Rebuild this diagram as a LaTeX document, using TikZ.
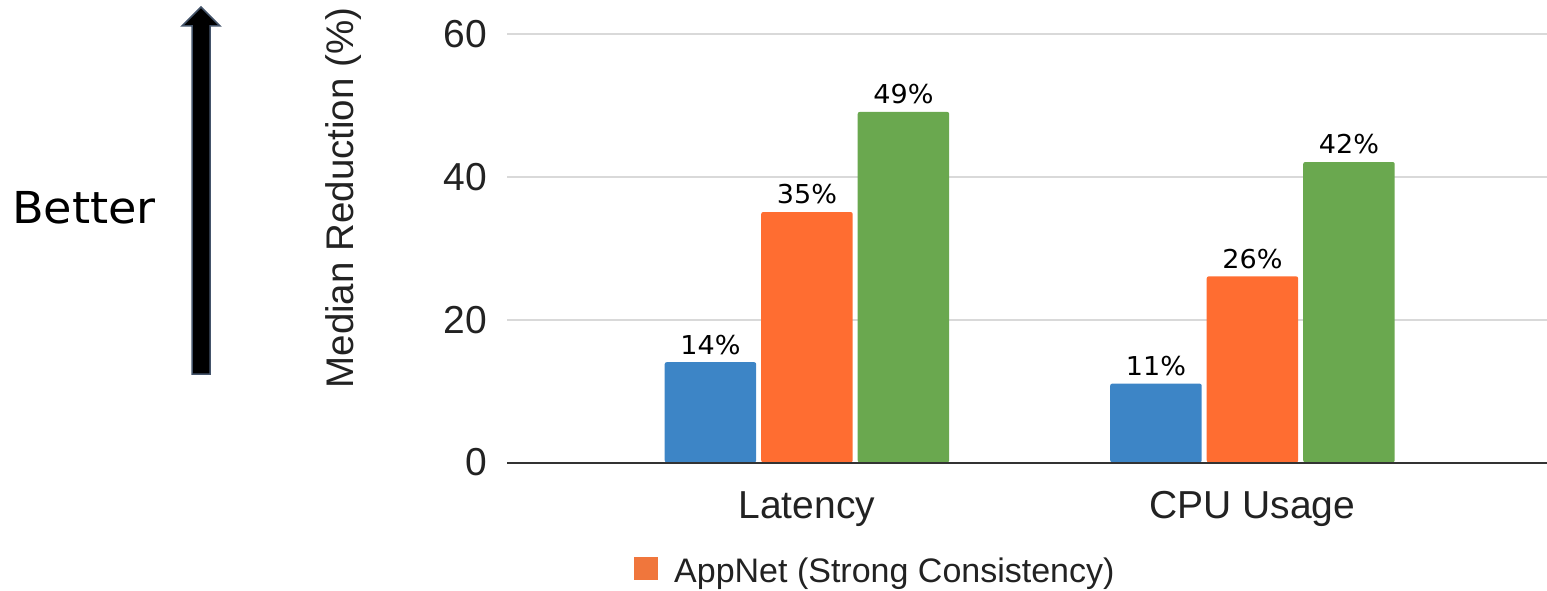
\documentclass[tikz,border=0pt]{standalone}
\usepackage{fontspec}
\setmainfont{Liberation Sans}
\newfontfamily\dvsans{DejaVu Sans}
\usetikzlibrary{calc}
\definecolor{barblue}{HTML}{3D85C6}
\definecolor{barorange}{HTML}{FF6D31}
\definecolor{bargreen}{HTML}{6AA84F}
\definecolor{keyorange}{HTML}{F0763C}
\definecolor{gridgray}{HTML}{D9D9D9}
\definecolor{axisgray}{HTML}{333333}
\definecolor{arrowedge}{HTML}{44546A}
\definecolor{labelgray}{HTML}{222222}
\tikzset{
  bar/.style={draw=none, inner sep=0pt, minimum width=91.5pt, anchor=south west, rounded corners=2pt},
  val/.style={font=\dvsans\fontsize{26}{30}\selectfont, inner sep=0pt, anchor=base, xscale=1.04},
  tick/.style={font=\fontsize{39}{45}\selectfont, text=labelgray, inner sep=0pt, anchor=east},
  cat/.style={font=\fontsize{39}{45}\selectfont, text=labelgray, inner sep=0pt, anchor=base},
  grid/.style={gridgray, line width=2pt},
}
\begin{document}
\begin{tikzpicture}[x=1pt, y=-1pt]
\useasboundingbox (0,0) rectangle (1547,591);

% "Better" arrow
\draw[fill=black, draw=arrowedge, line width=1.5pt, line join=miter]
  (192,374) -- (192,26) -- (182,26) -- (201,7) -- (220,26) -- (210,26) -- (210,374) -- cycle;
\node[font=\dvsans\fontsize{44}{50}\selectfont, inner sep=0pt, anchor=base west, xscale=1.05] (better) at (12,223) {Better};

% axis title
\node[rotate=90, font=\fontsize{38.5}{44}\selectfont, text=labelgray, inner sep=0pt, anchor=base] (ytitle) at (353,198) {Median Reduction (\%)};

% grid and tick labels
\foreach \v/\yy in {60/34, 40/177, 20/320}{
  \coordinate (g\v) at (507,\yy);
  \coordinate (h\v) at (1547,\yy);
  \draw[grid] (g\v) -- (h\v);
  \node[tick] (t\v) at (487,\yy) {\v};
}
\coordinate (g0) at (507,462.5);
\coordinate (h0) at (1547,462.5);
\node[tick] (t0) at (487,462.5) {0};

% bars (7.15pt per percent)
\node[bar, fill=barblue,   minimum height=100.1pt] (lat1) at (664.5,462.5) {};
\node[bar, fill=barorange, minimum height=250.25pt] (lat2) at (761,462.5) {};
\node[bar, fill=bargreen,  minimum height=350.35pt] (lat3) at (857.5,462.5) {};
\node[bar, fill=barblue,   minimum height=78.65pt] (cpu1) at (1110,462.5) {};
\node[bar, fill=barorange, minimum height=185.9pt] (cpu2) at (1206.5,462.5) {};
\node[bar, fill=bargreen,  minimum height=300.3pt] (cpu3) at (1303,462.5) {};

% baseline axis
\draw[axisgray, line width=2pt] (g0) -- (h0);

% value labels
\node[val] (vlat1) at ([yshift=8pt]lat1.north) {14\%};
\node[val] (vlat2) at ([yshift=8pt]lat2.north) {35\%};
\node[val] (vlat3) at ([yshift=8pt]lat3.north) {49\%};
\node[val] (vcpu1) at ([yshift=8pt]cpu1.north) {11\%};
\node[val] (vcpu2) at ([yshift=8pt]cpu2.north) {26\%};
\node[val] (vcpu3) at ([yshift=8pt]cpu3.north) {42\%};

% category labels
\node[cat] (clat) at (806.75,518) {Latency};
\node[cat] (ccpu) at (1252.25,518) {CPU Usage};

% legend
\node[fill=keyorange, draw=none, inner sep=0pt, minimum width=24pt, minimum height=23pt, anchor=north west] (key) at (633.5,557) {};
\node[font=\fontsize{34}{40}\selectfont, text=labelgray, inner sep=0pt, anchor=base west] (keytext) at (674,582) {AppNet (Strong Consistency)};
\end{tikzpicture}
\end{document}
